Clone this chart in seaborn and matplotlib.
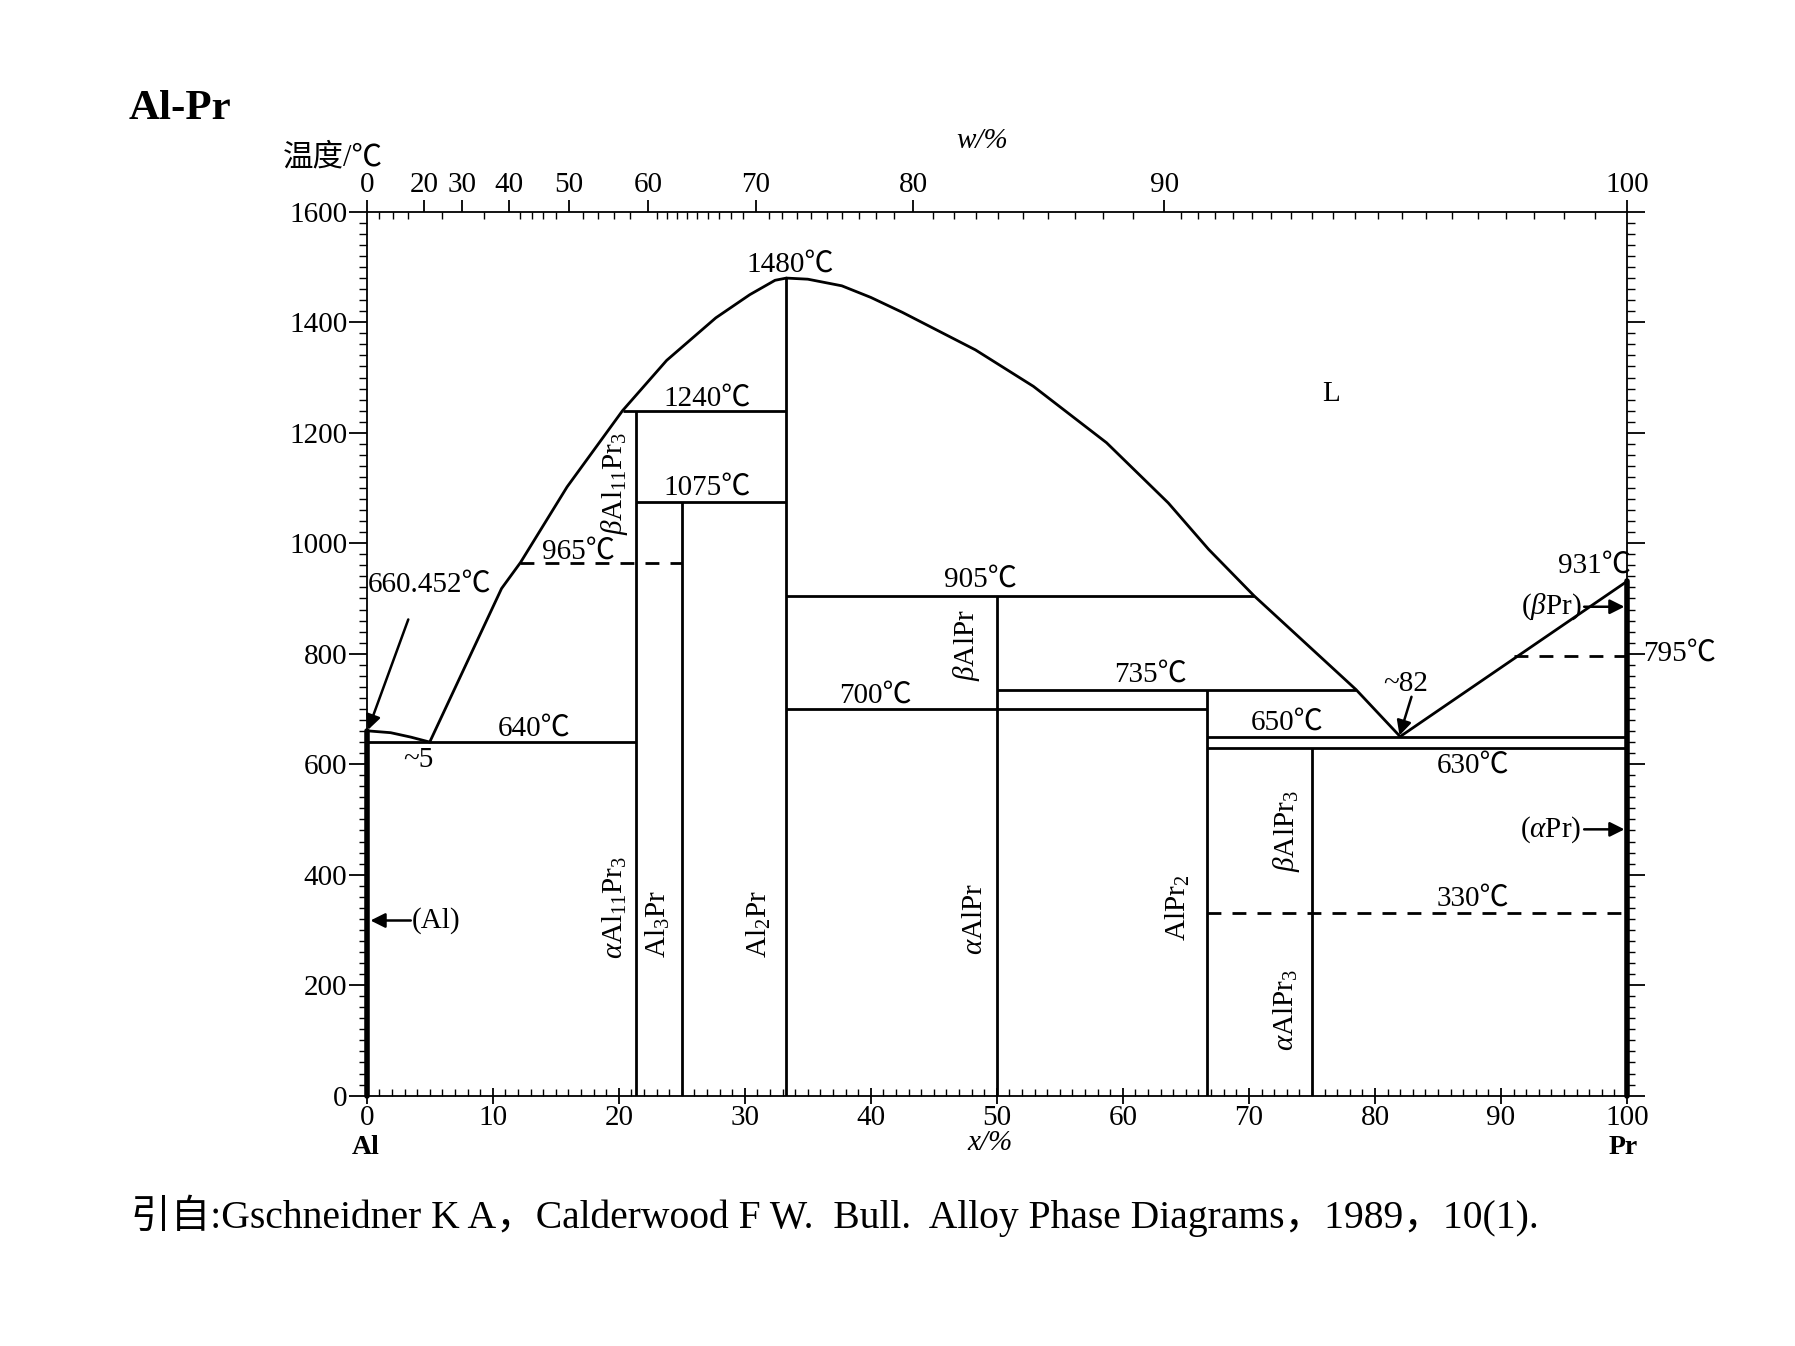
import numpy as np
import pandas as pd
import seaborn as sns
import matplotlib.pyplot as plt
from matplotlib.ticker import MultipleLocator, FixedLocator

# liquidus lines (x: at.% Pr, t: degC)
liq_al_x = [0, 1.9, 3.5, 5]
liq_al_t = [660.452, 657, 649, 640]
liq_left_x = [5, 10.7, 12.2, 15.9, 20.3, 23.8, 27.7, 30.4, 32.4, 33.3]
liq_left_t = [640, 918, 965, 1102, 1240, 1331, 1408, 1450, 1476, 1480]
liq_right_x = [33.3, 35.0, 37.7, 40.0, 42.5, 48.3, 52.9, 58.7, 63.6, 66.8, 70.4, 78.5, 82]
liq_right_t = [1480, 1478, 1466, 1445, 1418, 1350, 1284, 1182, 1073, 989, 905, 735, 650]
liq_pr_x = [82, 100]
liq_pr_t = [650, 931]

# compounds: composition and upper temperature
comp_x = [21.4, 25, 33.3, 50, 66.7, 75]
comp_top = [1240, 1075, 1480, 905, 735, 630]

# invariant lines
iso_t = [640, 1240, 1075, 905, 700, 735, 650, 630]
iso_x0 = [0, 20.3, 21.4, 33.3, 33.3, 50, 66.7, 66.7]
iso_x1 = [21.4, 33.3, 33.3, 70.4, 66.7, 78.5, 100, 100]
dash_t = [965, 330, 795]
dash_x0 = [12.2, 66.7, 91]
dash_x1 = [25, 100, 100]

w_labels = [0, 20, 30, 40, 50, 60, 70, 80, 90, 100]
M_AL, M_PR = 26.98, 140.91


def wt2at(w):
    w = np.asarray(w, dtype=float)
    a = w / M_PR
    b = (100 - w) / M_AL
    return 100 * a / (a + b)


sns.set_theme(style="ticks", rc={"axes.edgecolor": "black", "text.color": "black",
                                 "xtick.color": "black", "ytick.color": "black"})
plt.rcParams['font.family'] = ['Liberation Serif', 'Noto Sans CJK SC', 'DejaVu Sans']
plt.rcParams['mathtext.fontset'] = 'custom'
plt.rcParams['mathtext.rm'] = 'Liberation Serif'
plt.rcParams['mathtext.it'] = 'Liberation Serif:italic'
plt.rcParams['mathtext.bf'] = 'Liberation Serif:bold'

W, H = 1795, 1346
fig = plt.figure(figsize=(W / 100, H / 100), dpi=100)
fig.patch.set_facecolor("white")
ax = fig.add_axes([366.7 / W, 1 - 1095.6 / H, (1627 - 366.7) / W, (1095.6 - 211.8) / H])

LW = 2.0
for xs, ts in [(liq_al_x, liq_al_t), (liq_left_x, liq_left_t),
               (liq_right_x, liq_right_t), (liq_pr_x, liq_pr_t)]:
    sns.lineplot(x=xs, y=ts, sort=False, estimator=None, color="black", lw=LW, ax=ax)

ax.vlines(comp_x, 0, comp_top, color="black", lw=LW)
ax.hlines(iso_t, iso_x0, iso_x1, color="black", lw=LW)
ax.hlines(dash_t, dash_x0, dash_x1, color="black", lw=LW, linestyles=(0, (5, 4)))
ax.plot([0, 0], [0, liq_al_t[0]], color="black", lw=4, clip_on=False)
ax.plot([100, 100], [0, liq_pr_t[-1]], color="black", lw=4, clip_on=False)

ax.set_xlim(0, 100)
ax.set_ylim(0, 1600)
ax.set_xlabel("")
ax.set_ylabel("")

FS = 21
ax.xaxis.set_major_locator(MultipleLocator(10))
ax.xaxis.set_minor_locator(MultipleLocator(1))
ax.yaxis.set_major_locator(MultipleLocator(200))
ax.yaxis.set_minor_locator(MultipleLocator(20))
ax.tick_params(axis="x", which="major", direction="inout", length=12, width=1.3,
               labelsize=FS, pad=1, top=True)
ax.tick_params(axis="x", which="minor", direction="in", length=5, width=1, top=False)
ax.tick_params(axis="y", which="major", direction="out", length=13, width=1.3,
               labelsize=FS, pad=1, right=True)
ax.tick_params(axis="y", which="minor", direction="out", length=6, width=1, right=True)
for s in ax.spines.values():
    s.set_linewidth(1.3)

# top axis: mass fraction
axt = ax.twiny()
axt.set_xlim(0, 100)
axt.set_xticks(wt2at(w_labels))
axt.set_xticklabels([str(w) for w in w_labels])
w_minor = list(range(5, 40, 5)) + list(range(42, 60, 2)) + list(range(61, 90)) + \
    list(np.arange(90.5, 100, 0.5))
axt.xaxis.set_minor_locator(FixedLocator(wt2at(w_minor)))
axt.tick_params(axis="x", which="major", direction="out", length=9, width=1.3,
                labelsize=FS, pad=1)
axt.tick_params(axis="x", which="minor", direction="in", length=5, width=1)
for s in axt.spines.values():
    s.set_visible(False)

# temperature labels
lab = dict(fontsize=FS, ha="center", va="center")
ax.text(33.6, 1505, "1480℃", **lab)
ax.text(27.0, 1262, "1240℃", **lab)
ax.text(27.0, 1101, "1075℃", **lab)
ax.text(16.8, 984, "965℃", **lab)
ax.text(13.3, 665, "640℃", **lab)
ax.text(4.1, 607, "~5", **lab)
ax.text(0.1, 925, "660.452℃", fontsize=FS, ha="left", va="center")
ax.text(48.7, 935, "905℃", **lab)
ax.text(40.4, 725, "700℃", **lab)
ax.text(62.2, 763, "735℃", **lab)
ax.text(73.0, 675, "650℃", **lab)
ax.text(87.8, 598, "630℃", **lab)
ax.text(87.8, 356, "330℃", **lab)
ax.text(82.4, 745, "~82", **lab)
ax.text(100.3, 960, "931℃", fontsize=FS, ha="right", va="center")
ax.text(101.3, 800, "795℃", fontsize=FS, ha="left", va="center", clip_on=False)
ax.text(76.5, 1270, "L", **lab)

# phase labels
ax.text(96.4, 885, r"($\beta$Pr)", fontsize=FS, ha="right", va="center")
ax.text(96.4, 482, r"($\alpha$Pr)", fontsize=FS, ha="right", va="center")
ax.text(3.6, 317, "(Al)", fontsize=FS, ha="left", va="center")
arr = dict(arrowstyle="-|>", color="black", lw=1.8, mutation_scale=22, shrinkA=0, shrinkB=0)
ax.annotate("", xy=(99.8, 885), xytext=(96.6, 885), arrowprops=arr)
ax.annotate("", xy=(99.8, 482), xytext=(96.6, 482), arrowprops=arr)
ax.annotate("", xy=(0.3, 317), xytext=(3.5, 317), arrowprops=arr)
ax.annotate("", xy=(0.1, 662), xytext=(3.3, 862), arrowprops=arr)
ax.annotate("", xy=(81.95, 652), xytext=(82.9, 722), arrowprops=arr)

rot = dict(fontsize=FS, ha="center", va="center", rotation=90)
ax.text(19.7, 1108, r"$\beta$Al$_{11}$Pr$_3$", **rot)
ax.text(19.7, 340, r"$\alpha$Al$_{11}$Pr$_3$", **rot)
ax.text(23.1, 310, r"Al$_3$Pr", **rot)
ax.text(31.1, 310, r"Al$_2$Pr", **rot)
ax.text(47.6, 815, r"$\beta$AlPr", **rot)
ax.text(48.3, 320, r"$\alpha$AlPr", **rot)
ax.text(64.4, 340, r"AlPr$_2$", **rot)
ax.text(73.0, 478, r"$\beta$AlPr$_3$", **rot)
ax.text(72.9, 155, r"$\alpha$AlPr$_3$", **rot)

# figure texts
fig.text(129 / W, 1 - 109 / H, "Al-Pr", fontsize=31, weight="bold", ha="left", va="center")
fig.text(333 / W, 1 - 158 / H, "温度/℃", fontsize=22, ha="center", va="center")
fig.text(982 / W, 1 - 141 / H, "w/%", fontsize=FS, style="italic", ha="center", va="center")
fig.text(990 / W, 1 - 1143 / H, "x/%", fontsize=FS, style="italic", ha="center", va="center")
fig.text(366 / W, 1 - 1147 / H, "Al", fontsize=20, weight="bold", ha="center", va="center")
fig.text(1623 / W, 1 - 1147 / H, "Pr", fontsize=20, weight="bold", ha="center", va="center")
fig.text(131 / W, 1 - 1216 / H,
         "引自:Gschneidner K A，Calderwood F W.  Bull.  Alloy Phase Diagrams，1989，10(1).",
         fontsize=28.5, ha="left", va="center")

fig.savefig("out.png", dpi=100, facecolor="white")
